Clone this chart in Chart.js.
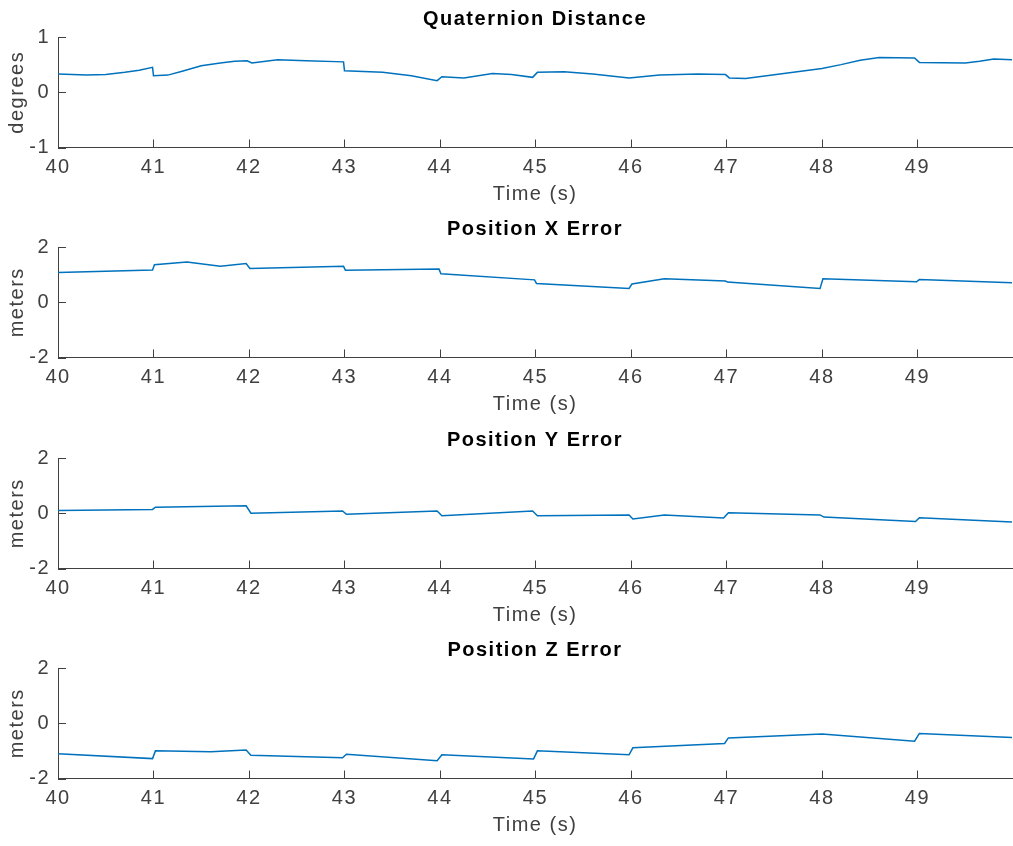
<!DOCTYPE html>
<html>
<head>
<meta charset="utf-8">
<title>Quaternion and position error</title>
<script src="https://cdn.jsdelivr.net/npm/chart.js@4.4.1/dist/chart.umd.min.js"></script>
<style>
  html, body { margin: 0; padding: 0; background: #fff; }
  #fig { position: relative; width: 1013px; height: 846px; overflow: hidden; }
  #fig canvas { position: absolute; left: 0; }
</style>
</head>
<body>
<div id="fig">
  <canvas id="quatChart" width="1013" height="210" style="top:0px"></canvas>
  <canvas id="posXChart" width="1013" height="210" style="top:210px"></canvas>
  <canvas id="posYChart" width="1013" height="210" style="top:421px"></canvas>
  <canvas id="posZChart" width="1013" height="210" style="top:631px"></canvas>
</div>
<script>
// time axis (s)
const timeMin = 40;
const timeMax = 49.99;
const timeTicks = [40, 41, 42, 43, 44, 45, 46, 47, 48, 49];

// quaternion distance (degrees)
const quatTime = [40.0, 40.15, 40.3, 40.5, 40.7, 40.85, 40.99, 41.0, 41.15, 41.3, 41.5, 41.7, 41.85, 41.98,
  42.03, 42.3, 42.6, 42.99, 43.0, 43.4, 43.7, 43.97, 44.02, 44.25, 44.55, 44.75, 44.97, 45.02, 45.3, 45.6,
  45.98, 46.3, 46.7, 46.99, 47.03, 47.2, 47.6, 48.0, 48.2, 48.4, 48.6, 48.97, 49.02, 49.5, 49.65, 49.8, 49.99];
const quatDeg = [0.33, 0.32, 0.31, 0.32, 0.36, 0.40, 0.45, 0.30, 0.31, 0.38, 0.48, 0.53, 0.56, 0.57,
  0.53, 0.59, 0.57, 0.55, 0.39, 0.36, 0.30, 0.21, 0.28, 0.26, 0.34, 0.32, 0.27, 0.36, 0.37, 0.33,
  0.26, 0.31, 0.33, 0.32, 0.26, 0.25, 0.34, 0.43, 0.50, 0.58, 0.63, 0.62, 0.54, 0.53, 0.56, 0.60, 0.59];

// position errors (meters)
const posXTime = [40.0, 40.99, 41.01, 41.35, 41.7, 41.97, 42.01, 42.99, 43.01, 43.99, 44.01, 44.99, 45.01,
  45.98, 46.01, 46.35, 46.99, 47.01, 47.98, 48.01, 48.99, 49.02, 49.99];
const posX = [1.08, 1.17, 1.36, 1.46, 1.30, 1.40, 1.22, 1.30, 1.16, 1.20, 1.03, 0.81, 0.68,
  0.50, 0.66, 0.85, 0.77, 0.73, 0.50, 0.85, 0.74, 0.82, 0.71];

const posYTime = [40.0, 40.99, 41.02, 41.97, 42.02, 42.98, 43.02, 43.97, 44.02, 44.97, 45.02, 45.98, 46.02,
  46.35, 46.97, 47.02, 47.98, 48.02, 48.98, 49.02, 49.99];
const posY = [0.10, 0.14, 0.22, 0.27, 0.00, 0.08, -0.04, 0.08, -0.09, 0.08, -0.09, -0.06, -0.21,
  -0.06, -0.17, 0.02, -0.06, -0.14, -0.30, -0.16, -0.32];

const posZTime = [40.0, 40.99, 41.02, 41.6, 41.97, 42.02, 42.98, 43.02, 43.97, 44.02, 44.98, 45.02, 45.98,
  46.02, 46.98, 47.02, 48.0, 48.97, 49.02, 49.99];
const posZ = [-1.10, -1.28, -1.00, -1.03, -0.97, -1.16, -1.25, -1.12, -1.36, -1.14, -1.29, -1.00, -1.14,
  -0.89, -0.73, -0.53, -0.39, -0.65, -0.37, -0.52];

const lineColor = "#0072BD";
const axisColor = "#404040";
const textColor = "#404040";

Chart.defaults.font.family = "'Liberation Sans', Arial, Helvetica, sans-serif";
Chart.defaults.font.size = 20;
Chart.defaults.color = textColor;

// matlab-like look: ticks drawn inside the axes, a bit of letter spacing
const matlabAxes = {
  id: "matlabAxes",
  beforeDraw(chart) {
    chart.ctx.letterSpacing = "1.5px";
  },
  afterDraw(chart) {
    const { ctx, chartArea, scales } = chart;
    const len = 8;
    ctx.save();
    ctx.strokeStyle = axisColor;
    ctx.lineWidth = 1;
    ctx.beginPath();
    scales.x.ticks.forEach((t) => {
      const px = Math.round(scales.x.getPixelForValue(t.value)) + 0.5;
      ctx.moveTo(px, chartArea.bottom);
      ctx.lineTo(px, chartArea.bottom - len);
    });
    scales.y.ticks.forEach((t) => {
      const py = Math.round(scales.y.getPixelForValue(t.value)) + 0.5;
      ctx.moveTo(chartArea.left, py);
      ctx.lineTo(chartArea.left + len, py);
    });
    ctx.stroke();
    ctx.restore();
  },
};

function makeSubplot(canvasId, title, yLabel, times, values, yMin, yMax, yStep) {
  const points = times.map((t, i) => ({ x: t, y: values[i] }));
  return new Chart(document.getElementById(canvasId), {
    type: "line",
    data: {
      datasets: [
        {
          data: points,
          borderColor: lineColor,
          borderWidth: 1.5,
          pointRadius: 0,
          tension: 0,
          fill: false,
        },
      ],
    },
    options: {
      responsive: false,
      animation: false,
      events: [],
      layout: { padding: { left: 0, right: 1, top: 0, bottom: 0 } },
      plugins: {
        legend: { display: false },
        tooltip: { enabled: false },
        title: {
          display: true,
          fullSize: false,
          text: title,
          color: "#000",
          font: { size: 20, weight: "bold" },
          padding: { top: 7, bottom: 6 },
        },
      },
      scales: {
        x: {
          type: "linear",
          min: timeMin,
          max: timeMax,
          grid: { display: false, drawTicks: false },
          border: { display: true, color: axisColor, width: 1 },
          afterBuildTicks: (scale) => {
            scale.ticks = timeTicks.map((v) => ({ value: v }));
          },
          ticks: { padding: 8, maxRotation: 0, color: textColor },
          title: {
            display: true,
            text: "Time (s)",
            color: textColor,
            padding: { top: 0, bottom: 4 },
          },
          afterFit: (scale) => {
            scale.height = 62.5;
          },
        },
        y: {
          min: yMin,
          max: yMax,
          grid: { display: false, drawTicks: false },
          border: { display: true, color: axisColor, width: 1 },
          ticks: { stepSize: yStep, padding: 8, color: textColor },
          title: {
            display: true,
            text: yLabel,
            color: textColor,
            padding: { top: 5, bottom: 0 },
          },
          afterFit: (scale) => {
            scale.width = 58;
          },
        },
      },
    },
    plugins: [matlabAxes],
  });
}

makeSubplot("quatChart", "Quaternion Distance", "degrees", quatTime, quatDeg, -1, 1, 1);
makeSubplot("posXChart", "Position X Error", "meters", posXTime, posX, -2, 2, 2);
makeSubplot("posYChart", "Position Y Error", "meters", posYTime, posY, -2, 2, 2);
makeSubplot("posZChart", "Position Z Error", "meters", posZTime, posZ, -2, 2, 2);
</script>
</body>
</html>
